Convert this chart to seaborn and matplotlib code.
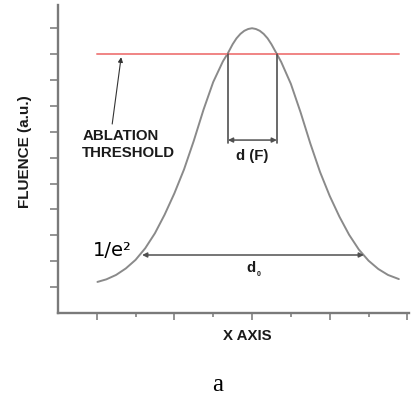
import numpy as np
import pandas as pd
import matplotlib.pyplot as plt
import seaborn as sns

# fluence profile (x in tick units, y in tick units)
beam_x = [-3.98, -3.75, -3.5, -3.25, -3.0, -2.75, -2.5, -2.25, -2.0, -1.75,
          -1.5, -1.25, -1.0, -0.75, -0.62, -0.5, -0.4, -0.3, -0.2, -0.1,
          0.0, 0.1, 0.2, 0.3, 0.4, 0.5, 0.64, 0.75, 1.0, 1.25,
          1.5, 1.75, 2.0, 2.25, 2.5, 2.75, 3.0, 3.25, 3.5, 3.78]
beam_y = [1.20, 1.30, 1.47, 1.72, 2.05, 2.50, 3.08, 3.80, 4.62, 5.55,
          6.65, 7.85, 8.92, 9.72, 10.04, 10.38, 10.61, 10.78, 10.90, 10.97,
          11.0, 10.97, 10.90, 10.78, 10.61, 10.38, 10.0, 9.70, 8.85, 7.75,
          6.55, 5.45, 4.52, 3.72, 3.02, 2.45, 2.02, 1.70, 1.47, 1.31]
threshold_x = [-3.98, 3.78]
threshold_y = [10.0, 10.0]
df_left, df_right = -0.62, 0.64     # where the threshold cuts the profile
d0_left, d0_right = -2.83, 2.88     # 1/e^2 width
d0_level = 2.24
df_arrow_level = 6.68

sns.set_style("white")
plt.rcParams['font.family'] = ['Liberation Sans', 'DejaVu Sans']

fig = plt.figure(figsize=(4.16, 3.98), dpi=100)
ax = fig.add_axes([0.139, 0.2136, 0.845, 0.774])

sns.lineplot(x=beam_x, y=beam_y, color='#8a8a8a', linewidth=1.4, ax=ax,
             solid_joinstyle='round')
sns.lineplot(x=threshold_x, y=threshold_y, color='#f08484', linewidth=1.4, ax=ax)

dark = '#505050'
ax.plot([df_left, df_left], [threshold_y[0], df_arrow_level - 0.1], color=dark, lw=1.2)
ax.plot([df_right, df_right], [threshold_y[0], df_arrow_level - 0.1], color=dark, lw=1.2)
ax.annotate('', xy=(df_left, df_arrow_level), xytext=(df_right, df_arrow_level),
            arrowprops=dict(arrowstyle='<|-|>', color=dark, lw=1.1,
                            mutation_scale=7, shrinkA=0, shrinkB=0))
ax.annotate('', xy=(d0_left, d0_level), xytext=(d0_right, d0_level),
            arrowprops=dict(arrowstyle='<|-|>', color=dark, lw=1.1,
                            mutation_scale=7, shrinkA=0, shrinkB=0))
ax.annotate('', xy=(-3.37, 9.88), xytext=(-3.60, 7.3),
            arrowprops=dict(arrowstyle='-|>', color='#333333', lw=0.8,
                            mutation_scale=7, shrinkA=0, shrinkB=0))

txt = '#1a1a1a'
ax.text(-4.37, 6.5, 'ABLATION\nTHRESHOLD', fontsize=10.8, fontweight='bold',
        ha='left', va='center', linespacing=1.25, color=txt)
ax.text(0.0, 6.06, 'd (F)', fontsize=10.8, fontweight='bold',
        ha='center', va='center', color=txt)
ax.text(-4.09, 2.43, '1/e²', fontsize=14, family='DejaVu Sans',
        ha='left', va='center', color='black')
ax.text(-0.03, 1.74, 'd', fontsize=10.8, fontweight='bold',
        ha='center', va='center', color=txt)
ax.text(0.16, 1.50, '0', fontsize=5, fontweight='bold',
        ha='center', va='center', color=txt)

ax.set_xlim(-5, 4.05)
ax.set_ylim(0, 11.9)
ax.set_xticks([-4, -2, 0, 2, 4])
ax.set_xticks([-3, -1, 1, 3], minor=True)
ax.set_yticks(range(1, 12))
ax.set_xticklabels([])
ax.set_yticklabels([])
ax.tick_params(axis='x', which='major', bottom=True, direction='out',
               length=5, width=1.2, color='#808080')
ax.tick_params(axis='x', which='minor', bottom=True, direction='out',
               length=3, width=1.2, color='#808080')
ax.tick_params(axis='y', left=True, direction='out', length=6,
               width=1.2, color='#808080')

for side in ['top', 'right']:
    ax.spines[side].set_visible(False)
for side in ['left', 'bottom']:
    ax.spines[side].set_color('#7a7a7a')
    ax.spines[side].set_linewidth(1.7)

ax.set_xlabel('X AXIS', fontsize=10.8, fontweight='bold', color=txt)
ax.set_ylabel('FLUENCE (a.u.)', fontsize=11, fontweight='bold', color=txt)
ax.xaxis.set_label_coords(0.538, -0.075)
ax.yaxis.set_label_coords(-0.094, 0.523)
ax.xaxis.label.set_va('center')
ax.yaxis.label.set_va('center')

fig.text(0.524, 0.033, 'a', family='Liberation Serif', fontsize=18,
         ha='center', va='center', color='black')

fig.savefig('out.png', dpi=100, facecolor='white')
